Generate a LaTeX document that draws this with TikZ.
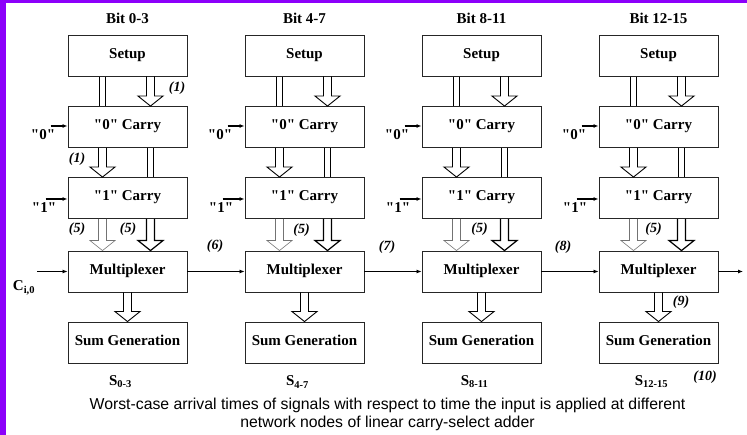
\documentclass[tikz,border=0pt]{standalone}
\usepackage{fontspec}
\setmainfont{Liberation Serif}[Ligatures=TeXOff]
\newfontfamily\capfont{Liberation Sans}
\usetikzlibrary{calc,arrows.meta}
\definecolor{framepurple}{RGB}{140,0,250}
\newcommand{\blockarrow}[3][]{%
  \draw[#1] ($(#2)+(-4,0)$) -- ($(#3)+(-4,-10)$) -- ($(#3)+(-12.5,-10)$) -- (#3)
    -- ($(#3)+(12.5,-10)$) -- ($(#3)+(4,-10)$) -- ($(#2)+(4,0)$);}
\begin{document}
\begin{tikzpicture}[x=1pt,y=-1pt,line join=miter,>={Latex[length=5pt,width=4pt]}]
	\tikzset{blk/.style={draw=black!85,line width=0.9pt,minimum width=119pt,minimum height=41pt,inner sep=0pt,
			text height=10pt,text depth=4pt,font=\bfseries\fontsize{15}{17}\selectfont},
		title/.style={font=\bfseries\fontsize{15}{17}\selectfont},
		lbl/.style={font=\bfseries\itshape\fontsize{14}{16}\selectfont},
		bus/.style={double,double distance=5.5pt,line width=0.8pt,shorten <=0.5pt,shorten >=0.5pt},
		hollow/.style={line width=0.9pt},
		thin hollow/.style={line width=0.6pt,draw=black!55},
		bold hollow/.style={line width=1.2pt},
		feed/.style={->,line width=1.3pt}}
	\useasboundingbox (0,0) rectangle (747,435);
	\fill[framepurple] (0,0) rectangle (6,435);
	\fill[framepurple] (0,0) rectangle (747,3);
	\foreach \i/\x/\bits in {1/127.5/0-3,2/304.5/4-7,3/481.5/8-11,4/658.5/12-15}{
		\node[title] (bit\i) at (\x,18) {Bit \bits};
		\node[blk] (setup\i) at (\x,55.5) {Setup};
		\node[blk] (zero\i) at (\x,127) {"0" Carry};
		\node[blk] (one\i) at (\x,198) {"1" Carry};
		\node[blk] (mux\i) at (\x,271.5) {Multiplexer};
		\node[blk] (sum\i) at (\x,342.5) {Sum Generation};
		\node[title] (s\i) at (\x-7,382) {S\textsubscript{\bits}};
		\coordinate (L\i) at (\x-25,0);
		\coordinate (R\i) at (\x+23,0);
		\blockarrow[hollow]{setup\i.south -| R\i}{zero\i.north -| R\i}
		\draw[bus] (setup\i.south -| L\i) -- (zero\i.north -| L\i);
		\blockarrow[hollow]{zero\i.south -| L\i}{one\i.north -| L\i}
		\draw[bus] (zero\i.south -| R\i) -- (one\i.north -| R\i);
		\blockarrow[thin hollow]{one\i.south -| L\i}{mux\i.north -| L\i}
		\blockarrow[bold hollow]{one\i.south -| R\i}{mux\i.north -| R\i}
		\blockarrow[hollow]{mux\i.south}{sum\i.north}
		\node[title] (q0\i) at ($(zero\i.west)+(-24.5,8)$) {"0"};
		\coordinate (a0\i) at ($(zero\i.west)+(-17,-1)$);
		\draw[feed] (a0\i) -- (a0\i -| zero\i.west);
		\node[title] (q1\i) at ($(one\i.west)+(-23.5,9.5)$) {"1"};
		\coordinate (a1\i) at ($(one\i.west)+(-22,1)$);
		\draw[feed] (a1\i) -- (a1\i -| one\i.west);
	}
	\coordinate (cin) at (37,271.5);
	\coordinate (cout) at (743,271.5);
	\node[title] (ci) at (24,288) {C\textsubscript{i,0}};
	\draw[->,line width=0.8pt] (cin) -- (mux1);
	\draw[->,line width=0.8pt] (mux1) -- (mux2);
	\draw[->,line width=0.8pt] (mux2) -- (mux3);
	\draw[->,line width=0.8pt] (mux3) -- (mux4);
	\draw[->,line width=0.8pt] (mux4) -- (cout);
	\node[lbl] (t1) at (177,88) {(1)};
	\node[lbl] (t2) at (77,159) {(1)};
	\node[lbl] (t3) at (77,229) {(5)};
	\node[lbl] (t4) at (128,229) {(5)};
	\node[lbl] (t5) at (301.5,230) {(5)};
	\node[lbl] (t6) at (479.5,229) {(5)};
	\node[lbl] (t7) at (653.5,229) {(5)};
	\node[lbl] (t8) at (215,246) {(6)};
	\node[lbl] (t9) at (387,247) {(7)};
	\node[lbl] (t10) at (563,247) {(8)};
	\node[lbl] (t11) at (681,302) {(9)};
	\node[lbl] (t12) at (705,377) {(10)};
	\node[font=\capfont\fontsize{15.8}{18}\selectfont,align=center] (caption) at (387.5,414)
		{Worst-case arrival times of signals with respect to time the input is applied at different\\network nodes of linear carry-select adder};
\end{tikzpicture}
\end{document}
